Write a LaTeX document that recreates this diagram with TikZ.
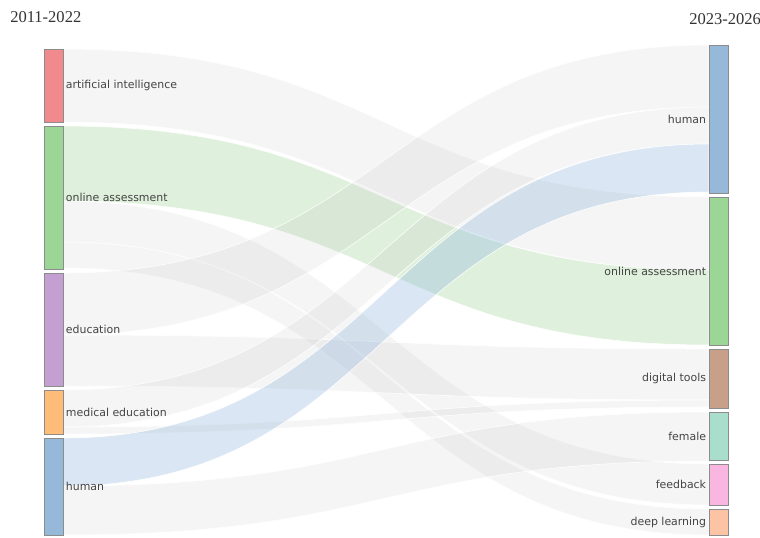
\documentclass[tikz,border=0pt]{standalone}
\usepackage{fontspec}
\setsansfont{DejaVu Sans}
\newfontfamily\yearfont{Liberation Serif}
\usetikzlibrary{calc,positioning}

\definecolor{aired}{RGB}{240,138,140}
\definecolor{oagreen}{RGB}{155,214,150}
\definecolor{edupurple}{RGB}{196,160,210}
\definecolor{medorange}{RGB}{253,189,120}
\definecolor{humblue}{RGB}{150,185,218}
\definecolor{dtbrown}{RGB}{200,160,138}
\definecolor{femteal}{RGB}{170,222,204}
\definecolor{fbpink}{RGB}{248,182,224}
\definecolor{dlpeach}{RGB}{252,196,165}
\definecolor{barline}{RGB}{140,140,140}
\definecolor{labelgrey}{RGB}{68,68,68}
\definecolor{greyflow}{RGB}{179,179,179}
\definecolor{greenflow}{RGB}{150,210,140}
\definecolor{blueflow}{RGB}{140,180,220}

\pgfdeclarelayer{back}
\pgfdeclarelayer{links}
\pgfsetlayers{back,links,main}

\newcommand{\flowband}[6]{%
  \path[#6] ($(#1.north east)+(0,#2)$) .. controls +(323,0) and +(-323,0) .. ($(#3.north west)+(0,#4)$)
    -- ($(#3.north west)+(0,#4+#5)$) .. controls +(-323,0) and +(323,0) .. ($(#1.north east)+(0,#2+#5)$) -- cycle;}

\begin{document}
\begin{tikzpicture}[x=0.75pt,y=-0.75pt,
      bar/.style={draw=barline,line width=0.4pt,inner sep=0pt,outer sep=0pt,
        anchor=north west,minimum width=14.25pt,minimum height=#1*0.75pt},
      lbl/.style={inner sep=0pt,text=labelgrey,font=\sffamily\fontsize{8.2}{10}\selectfont},
      year/.style={inner sep=0pt,text=black!80,font=\yearfont\fontsize{12.4}{14}\selectfont},
      flow/.style={fill=greyflow,fill opacity=0.13,draw=white,line width=0.4pt},
      greenband/.style={fill=greenflow,fill opacity=0.3,draw=white,line width=0.4pt},
      blueband/.style={fill=blueflow,fill opacity=0.32,draw=white,line width=0.4pt}]
    \useasboundingbox (0,0) rectangle (760,537);
    \begin{pgfonlayer}{back}
      \fill[white] (0,0) rectangle (760,537);
    \end{pgfonlayer}

    \node[year,anchor=west] (oldyears) at (10,17) {2011-2022};
    \node[year,anchor=west] (newyears) at (689,19) {2023-2026};

    \node[bar=73,fill=aired] (ai) at (44,49) {};
    \node[bar=143,fill=oagreen] (oa) at (44,126) {};
    \node[bar=113,fill=edupurple] (edu) at (44,273) {};
    \node[bar=44,fill=medorange] (med) at (44,390) {};
    \node[bar=97,fill=humblue] (hum) at (44,438) {};

    \node[bar=148,fill=humblue] (humnew) at (709,45) {};
    \node[bar=148,fill=oagreen] (oanew) at (709,197) {};
    \node[bar=59,fill=dtbrown] (tools) at (709,349) {};
    \node[bar=48,fill=femteal] (female) at (709,412) {};
    \node[bar=41,fill=fbpink] (feedback) at (709,464) {};
    \node[bar=26,fill=dlpeach] (deep) at (709,509) {};

    \node[lbl,right=2pt of ai] (ailbl) {artificial intelligence};
    \node[lbl,right=2pt of oa] (oalbl) {online assessment};
    \node[lbl,right=2pt of edu] (edulbl) {education};
    \node[lbl,right=2pt of med] (medlbl) {medical education};
    \node[lbl,right=2pt of hum] (humlbl) {human};
    \node[lbl,left=2pt of humnew] (humnewlbl) {human};
    \node[lbl,left=2pt of oanew] (oanewlbl) {online assessment};
    \node[lbl,left=2pt of tools] (toolslbl) {digital tools};
    \node[lbl,left=2pt of female] (femalelbl) {female};
    \node[lbl,left=2pt of feedback] (feedbacklbl) {feedback};
    \node[lbl,left=2pt of deep] (deeplbl) {deep learning};

    \begin{pgfonlayer}{links}
      \flowband{ai}{0}{oanew}{0}{73}{flow}
      \flowband{oa}{0}{oanew}{73}{75}{greenband}
      \flowband{oa}{75}{feedback}{0}{41}{flow}
      \flowband{oa}{116}{deep}{0}{26}{flow}
      \flowband{edu}{0}{humnew}{0}{62}{flow}
      \flowband{edu}{62}{tools}{0}{51}{flow}
      \flowband{med}{0}{humnew}{62}{37}{flow}
      \flowband{med}{37}{tools}{51}{7}{flow}
      \flowband{hum}{0}{humnew}{99}{48}{blueband}
      \flowband{hum}{48}{female}{0}{49}{flow}
    \end{pgfonlayer}
\end{tikzpicture}
\end{document}
